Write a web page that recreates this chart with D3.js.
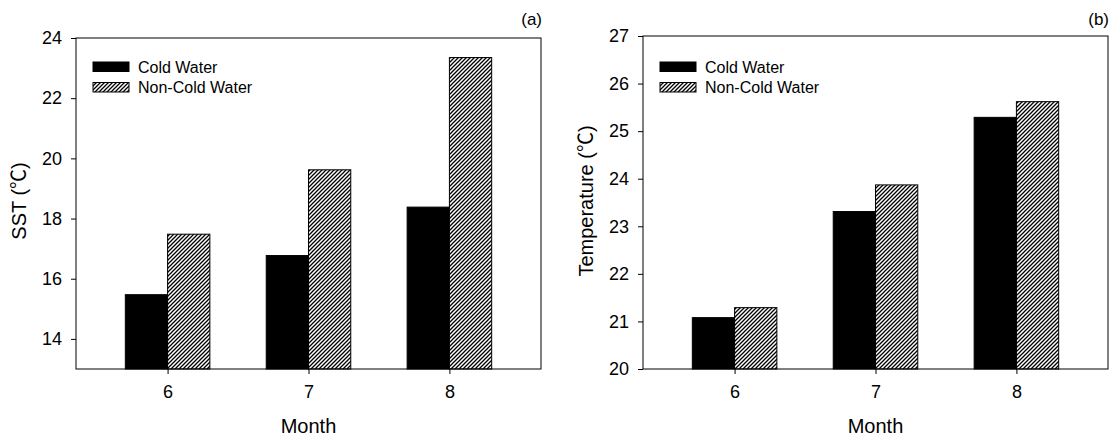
<!DOCTYPE html>
<html lang="en">
<head>
<meta charset="utf-8"/>
<title>Cold water vs non-cold water</title>
<script src="https://cdn.jsdelivr.net/npm/d3@7"></script>
<style>
  body { margin: 0; background: #fff; }
  svg text { font-family: "Liberation Sans", Arial, "Noto Sans CJK SC", sans-serif; fill: #000; }
</style>
</head>
<body>
<svg id="chart" width="1113" height="436"></svg>
<script>
// values
const months = [6, 7, 8];
const series = ['Cold Water', 'Non-Cold Water'];
const sstCold = [15.47, 16.77, 18.38];
const sstNonCold = [17.48, 19.62, 23.35];
const tempCold = [21.08, 23.31, 25.29];
const tempNonCold = [21.29, 23.87, 25.62];
const sstTicks = [14, 16, 18, 20, 22, 24];
const tempTicks = [20, 21, 22, 23, 24, 25, 26, 27];

const svg = d3.select('#chart');

// hatch for the non-cold bars
const pat = svg.append('defs').append('pattern')
  .attr('id', 'hatch')
  .attr('patternUnits', 'userSpaceOnUse')
  .attr('width', 4).attr('height', 4);
pat.append('rect').attr('width', 4).attr('height', 4).attr('fill', '#fff');
pat.append('path')
  .attr('d', 'M-1,1 l2,-2 M0,4 l4,-4 M3,5 l2,-2')
  .attr('stroke', '#000').attr('stroke-width', 1.3);

function drawPanel(opt) {
  const g = svg.append('g');
  const x = d3.scaleLinear().domain([5.35, 8.65]).range([opt.left, opt.right]);
  const y = d3.scaleLinear().domain(opt.yDomain).range([369, opt.top]);
  const bw = 0.3;

  // bars
  const bars = g.append('g');
  bars.selectAll('rect.cold')
    .data(months.map((m, i) => ({ m, v: opt.cold[i] })))
    .enter().append('rect')
    .attr('class', 'cold')
    .attr('x', d => x(d.m - bw))
    .attr('width', d => x(d.m) - x(d.m - bw))
    .attr('y', d => y(d.v))
    .attr('height', d => y(opt.yDomain[0]) - y(d.v))
    .attr('fill', '#000').attr('stroke', '#000');
  bars.selectAll('rect.non')
    .data(months.map((m, i) => ({ m, v: opt.non[i] })))
    .enter().append('rect')
    .attr('class', 'non')
    .attr('x', d => x(d.m))
    .attr('width', d => x(d.m + bw) - x(d.m))
    .attr('y', d => y(d.v))
    .attr('height', d => y(opt.yDomain[0]) - y(d.v))
    .attr('fill', 'url(#hatch)').attr('stroke', '#000');

  // axes
  const ya = g.append('g')
    .attr('transform', 'translate(' + opt.left + ',0)')
    .call(d3.axisLeft(y).tickValues(opt.ticks).tickSize(5).tickSizeOuter(0).tickPadding(9).tickFormat(d3.format('d')));
  ya.select('.domain').remove();
  ya.selectAll('text').style('font-size', '18px');

  const xa = g.append('g')
    .attr('transform', 'translate(0,369)')
    .call(d3.axisBottom(x).tickValues(months).tickSize(5).tickSizeOuter(0).tickPadding(11).tickFormat(d3.format('d')));
  xa.select('.domain').remove();
  xa.selectAll('text').style('font-size', '18px');

  // frame
  g.append('rect')
    .attr('x', opt.left).attr('y', opt.top)
    .attr('width', opt.right - opt.left).attr('height', 369 - opt.top)
    .attr('fill', 'none').attr('stroke', '#000').attr('stroke-width', 1);

  // titles
  g.append('text')
    .attr('x', (opt.left + opt.right) / 2).attr('y', 433)
    .attr('text-anchor', 'middle').style('font-size', '20px')
    .text('Month');
  g.append('text')
    .attr('transform', 'translate(' + opt.titleX + ',201) rotate(-90)')
    .attr('text-anchor', 'middle').style('font-size', '20px')
    .text(opt.yTitle);
  g.append('text')
    .attr('x', opt.right + 1).attr('y', 25)
    .attr('text-anchor', 'end').style('font-size', '17px')
    .text(opt.tag);

  // legend
  const lg = g.append('g').attr('transform', 'translate(' + (opt.left + 17) + ',62)');
  lg.selectAll('rect')
    .data(series)
    .enter().append('rect')
    .attr('x', 0).attr('y', (d, i) => i * 20.5)
    .attr('width', 36).attr('height', 9.5)
    .attr('fill', (d, i) => i ? 'url(#hatch)' : '#000')
    .attr('stroke', '#000');
  lg.selectAll('text')
    .data(series)
    .enter().append('text')
    .attr('x', 45).attr('y', (d, i) => 11 + i * 19.5)
    .style('font-size', '16px')
    .text(d => d);
}

drawPanel({ left: 76, right: 541, top: 38, yDomain: [13, 24], ticks: sstTicks,
  cold: sstCold, non: sstNonCold, yTitle: 'SST (℃)', titleX: 26, tag: '(a)' });
drawPanel({ left: 643, right: 1108, top: 36, yDomain: [20, 27], ticks: tempTicks,
  cold: tempCold, non: tempNonCold, yTitle: 'Temperature (℃)', titleX: 593, tag: '(b)' });
</script>
</body>
</html>
